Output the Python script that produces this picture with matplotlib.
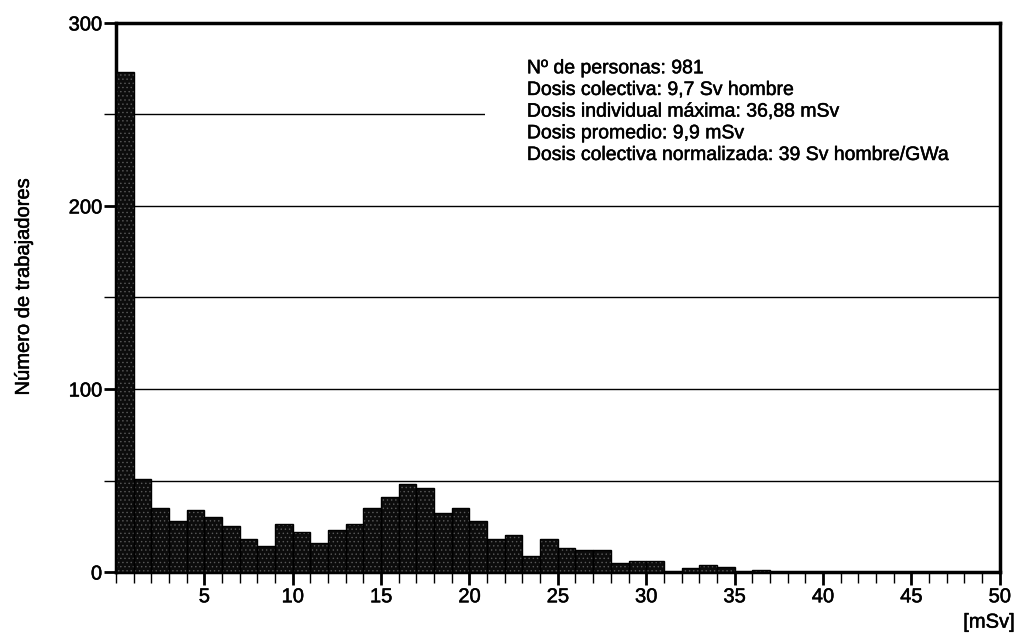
import numpy as np
import matplotlib
matplotlib.use("Agg")
import matplotlib.pyplot as plt
import matplotlib.patheffects as pe
from matplotlib.patches import Rectangle

plt.rcParams['font.family'] = ['Liberation Sans', 'DejaVu Sans']
plt.rcParams['hatch.linewidth'] = 0.5

# workers per 1 mSv dose bin, bins start at 0 mSv
bin_start = np.arange(0, 37)
workers = [273, 51, 35, 28, 34, 30, 25, 18, 14, 26, 22, 16, 23, 26, 35, 41,
           48, 46, 32, 35, 28, 18, 20, 9, 18, 13, 12, 12, 5, 6, 6, 0, 2, 4, 3, 0, 1]

stats_lines = [
    "Nº de personas: 981",
    "Dosis colectiva: 9,7 Sv hombre",
    "Dosis individual máxima: 36,88 mSv",
    "Dosis promedio: 9,9 mSv",
    "Dosis colectiva normalizada: 39 Sv hombre/GWa",
]

heavy = [pe.withStroke(linewidth=0.35, foreground='black')]

fig = plt.figure(figsize=(10.17, 6.37), dpi=100)
ax = fig.add_axes([0.114, 0.102, 0.869, 0.862])

# dark stippled bars, then a black outline on top
ax.bar(bin_start, workers, width=1.0, align='edge', color='#0c0c0c',
       edgecolor='#5a5a5a', hatch='....', linewidth=0, zorder=3)
ax.bar(bin_start, workers, width=1.0, align='edge', fill=False,
       edgecolor='black', linewidth=1.0, zorder=4)

ax.set_xlim(0, 50)
ax.set_ylim(0, 300)

for y in [50, 100, 150, 200, 250]:
    ax.axhline(y, color='black', linewidth=1.0, zorder=1)

ax.set_xticks(np.arange(5, 51, 5))
ax.set_xticks(np.arange(0, 51, 1), minor=True)
ax.set_yticks([0, 100, 200, 300])
ax.set_yticks([50, 150, 250], minor=True)
ax.tick_params(axis='x', which='major', direction='out', length=9, width=2, labelsize=14.5, pad=2)
ax.tick_params(axis='x', which='minor', direction='out', length=8, width=1)
ax.tick_params(axis='y', which='major', direction='out', length=9, width=2, labelsize=14.5, pad=1)
ax.tick_params(axis='y', which='minor', direction='out', length=9, width=1)
for lbl in ax.get_xticklabels() + ax.get_yticklabels():
    lbl.set_path_effects(heavy)

for s in ax.spines.values():
    s.set_linewidth(2.5)

ax.set_ylabel("Número de trabajadores", fontsize=14.5, path_effects=heavy)
ax.yaxis.set_label_coords(-0.094, 0.52)
ax.text(1.017, -0.074, "[mSv]", transform=ax.transAxes, ha='right', va='top',
        fontsize=14.5, path_effects=heavy)

# white panel behind the summary figures hides the grid there
ax.add_patch(Rectangle((0.418, 0.77), 0.582, 0.19, transform=ax.transAxes,
                       facecolor='white', edgecolor='none', zorder=2))
ax.text(0.465, 0.932, "\n".join(stats_lines), transform=ax.transAxes,
        ha='left', va='top', fontsize=14, linespacing=1.36, zorder=5,
        path_effects=heavy)

fig.savefig("out.png", dpi=100)
